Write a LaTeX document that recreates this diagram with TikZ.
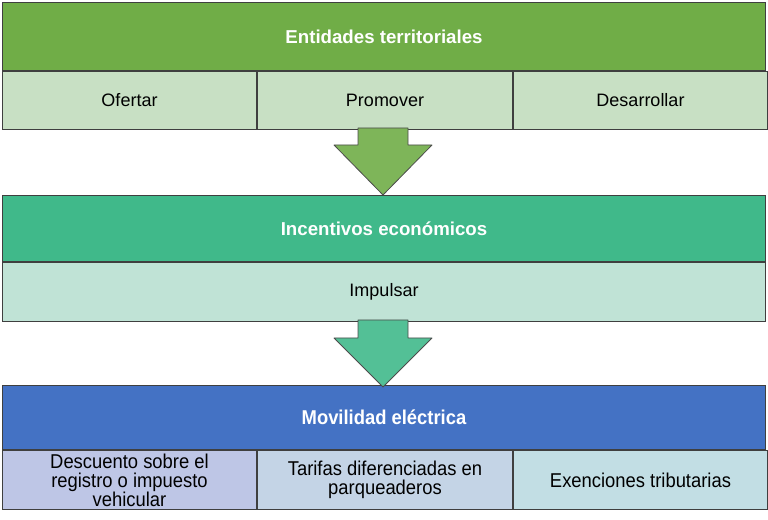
\documentclass[tikz,border=0pt]{standalone}
\usepackage{fontspec}
\setmainfont{Liberation Sans}
\newfontfamily\narrowsf[FakeStretch=0.92]{Liberation Sans}
\usepackage{tikz}
\usepackage{xcolor}

\definecolor{entgreen}{HTML}{70AD47}
\definecolor{entlight}{HTML}{C8E0C4}
\definecolor{inconc}{HTML}{40B98A}
\definecolor{inclight}{HTML}{C0E3D6}
\definecolor{movblue}{HTML}{4472C4}
\definecolor{movone}{HTML}{BEC6E6}
\definecolor{movtwo}{HTML}{C4D4E6}
\definecolor{movthree}{HTML}{C2DEE4}
\definecolor{edge}{HTML}{3F3F3F}

\begin{document}
\begin{tikzpicture}[x=0.75pt,y=-0.75pt,
        box/.style={draw=edge,line width=0.75pt,anchor=north west,inner sep=2pt,align=center},
        hdr/.style={box,text=white,font=\fontsize{14}{16}\selectfont\bfseries,minimum width=763*0.75pt},
        item/.style={box,font=\fontsize{13.5}{16}\selectfont,minimum height=58*0.75pt},
        narrowitem/.style={box,inner ysep=0pt,font=\fontsize{15}{14.2}\selectfont\narrowsf,minimum height=59*0.75pt},
        blockarr/.style={draw=gray!60!black,line width=0.6pt,line join=round}]
        \useasboundingbox (0,0) rectangle (768,520);

        % Entidades territoriales
        \node[hdr,fill=entgreen,minimum height=68*0.75pt] (ent) at (2,2) {Entidades territoriales};
        \node[item,fill=entlight,minimum width=254*0.75pt] (ofe) at (ent.south west) {Ofertar};
        \node[item,fill=entlight,minimum width=255*0.75pt] (pro) at (ofe.north east) {Promover};
        \node[item,fill=entlight,minimum width=254*0.75pt] (des) at (pro.north east) {Desarrollar};

        % Incentivos economicos
        \node[hdr,fill=inconc,minimum height=66*0.75pt] (inc) at (2,195) {Incentivos económicos};
        \node[item,fill=inclight,minimum width=763*0.75pt,minimum height=59*0.75pt] (imp) at (inc.south west) {Impulsar};

        % Movilidad electrica
        \node[hdr,fill=movblue,minimum height=64*0.75pt,font=\fontsize{15}{16}\selectfont\narrowsf\bfseries] (mov) at (2,385) {Movilidad eléctrica};
        \node[narrowitem,fill=movone,minimum width=254*0.75pt] (dsc) at (mov.south west) {Descuento sobre el\\registro o impuesto\\vehicular};
        \node[narrowitem,fill=movtwo,minimum width=255*0.75pt] (tar) at (dsc.north east) {Tarifas diferenciadas en\\parqueaderos};
        \node[narrowitem,fill=movthree,minimum width=254*0.75pt] (exe) at (tar.north east) {Exenciones tributarias};

        % Block arrows
        \draw[blockarr,fill=entgreen!90!white] (358,128) -- (358,145) -- (334,145) -- (383,195)
            -- (432,145) -- (408,145) -- (408,128) -- cycle;
        \draw[blockarr,fill=inconc!90!white] (358,320) -- (358,338) -- (334,338) -- (383,387)
            -- (432,338) -- (408,338) -- (408,320) -- cycle;
    \end{tikzpicture}
\end{document}
